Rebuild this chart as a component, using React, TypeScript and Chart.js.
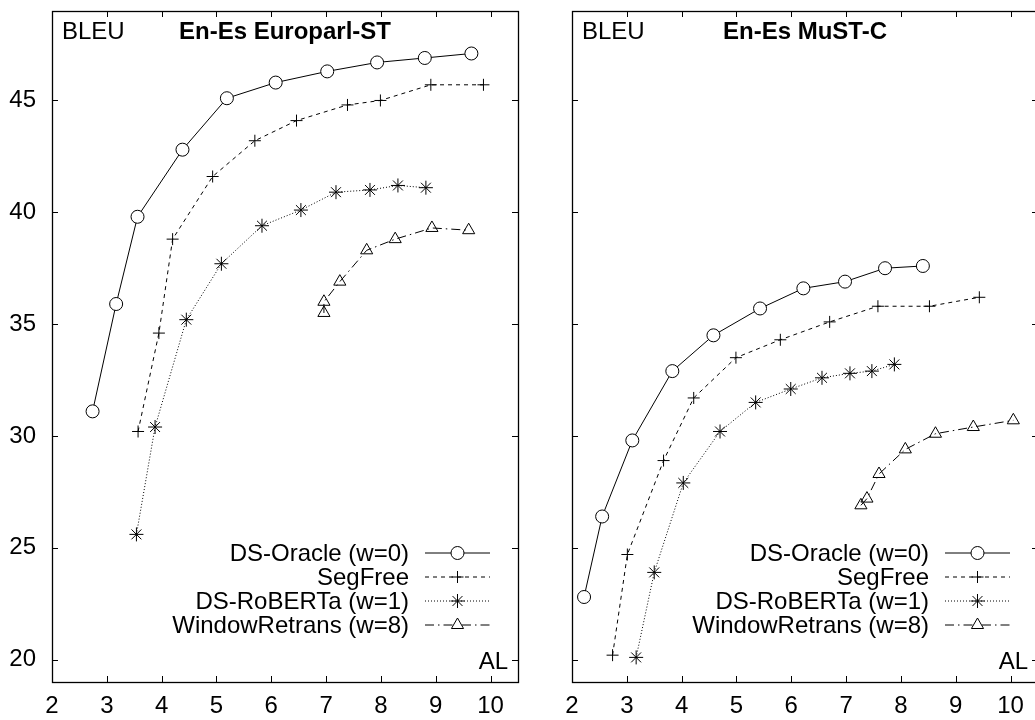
import React, { useEffect, useRef } from 'react';
import { Chart, registerables } from 'chart.js';

Chart.register(...registerables);

const FONT = '"Liberation Sans", Arial, Helvetica, sans-serif';
const FS = 24;

// ---- shared labels / ticks ----
const seriesLabels = ['DS-Oracle (w=0)', 'SegFree', 'DS-RoBERTa (w=1)', 'WindowRetrans (w=8)'];
const xTickValues = [2, 3, 4, 5, 6, 7, 8, 9, 10];
const yTickValues = [20, 25, 30, 35, 40, 45];
const panelTitles = ['En-Es Europarl-ST', 'En-Es MuST-C'];

// ---- En-Es Europarl-ST ----
const epOracleAL = [2.74, 3.17, 3.56, 4.38, 5.19, 6.08, 7.02, 7.93, 8.8, 9.65];
const epOracleBLEU = [31.1, 35.9, 39.8, 42.8, 45.1, 45.8, 46.3, 46.7, 46.9, 47.1];
const epSegFreeAL = [3.57, 3.95, 4.2, 4.93, 5.7, 6.46, 7.39, 7.99, 8.91, 9.87];
const epSegFreeBLEU = [30.2, 34.6, 38.8, 41.6, 43.2, 44.1, 44.8, 45.0, 45.7, 45.7];
const epRobertaAL = [3.54, 3.88, 4.45, 5.09, 5.83, 6.54, 7.18, 7.8, 8.31, 8.82];
const epRobertaBLEU = [25.6, 30.4, 35.2, 37.7, 39.4, 40.1, 40.9, 41.0, 41.2, 41.1];
const epWindowAL = [6.96, 6.96, 7.25, 7.74, 8.26, 8.93, 9.6];
const epWindowBLEU = [35.5, 36.0, 36.9, 38.3, 38.8, 39.3, 39.2];

// ---- En-Es MuST-C ----
const mcOracleAL = [2.22, 2.55, 3.1, 3.83, 4.58, 5.43, 6.22, 6.98, 7.71, 8.4];
const mcOracleBLEU = [22.8, 26.4, 29.8, 32.9, 34.5, 35.7, 36.6, 36.9, 37.5, 37.6];
const mcSegFreeAL = [2.74, 3.01, 3.67, 4.22, 4.99, 5.8, 6.7, 7.58, 8.52, 9.43];
const mcSegFreeBLEU = [20.2, 24.7, 28.9, 31.7, 33.5, 34.3, 35.1, 35.8, 35.8, 36.2];
const mcRobertaAL = [3.17, 3.5, 4.03, 4.7, 5.35, 5.99, 6.56, 7.07, 7.47, 7.88];
const mcRobertaBLEU = [20.1, 23.9, 27.9, 30.2, 31.5, 32.1, 32.6, 32.8, 32.9, 33.2];
const mcWindowAL = [7.27, 7.38, 7.6, 8.08, 8.63, 9.32, 10.05];
const mcWindowBLEU = [26.9, 27.2, 28.3, 29.4, 30.1, 30.4, 30.7];

const seriesStyles = [
  { borderDash: [] as number[], pointStyle: 'circle', pointRadius: 6.5, fill: '#fff' },
  { borderDash: [4, 4], pointStyle: 'cross', pointRadius: 6, fill: 'rgba(0,0,0,0)' },
  { borderDash: [1, 2], pointStyle: 'star', pointRadius: 7, fill: 'rgba(0,0,0,0)' },
  { borderDash: [9, 4, 1.5, 4], pointStyle: 'triangle', pointRadius: 7, fill: 'rgba(0,0,0,0)' },
];

const zip = (xs: number[], ys: number[]) => xs.map((x, i) => ({ x, y: ys[i] }));

function drawMarker(ctx: CanvasRenderingContext2D, style: string, x: number, y: number, r: number) {
  ctx.setLineDash([]);
  ctx.beginPath();
  if (style === 'circle') {
    ctx.arc(x, y, r, 0, Math.PI * 2);
    ctx.fillStyle = '#fff';
    ctx.fill();
    ctx.stroke();
  } else if (style === 'cross') {
    ctx.moveTo(x - r, y); ctx.lineTo(x + r, y);
    ctx.moveTo(x, y - r); ctx.lineTo(x, y + r);
    ctx.stroke();
  } else if (style === 'star') {
    const d = r * Math.SQRT1_2;
    ctx.moveTo(x - r, y); ctx.lineTo(x + r, y);
    ctx.moveTo(x, y - r); ctx.lineTo(x, y + r);
    ctx.moveTo(x - d, y - d); ctx.lineTo(x + d, y + d);
    ctx.moveTo(x - d, y + d); ctx.lineTo(x + d, y - d);
    ctx.stroke();
  } else if (style === 'triangle') {
    let rad = 0;
    ctx.moveTo(x + Math.sin(rad) * r, y - Math.cos(rad) * r);
    rad += (2 * Math.PI) / 3;
    ctx.lineTo(x + Math.sin(rad) * r, y - Math.cos(rad) * r);
    rad += (2 * Math.PI) / 3;
    ctx.lineTo(x + Math.sin(rad) * r, y - Math.cos(rad) * r);
    ctx.closePath();
    ctx.fillStyle = '#fff';
    ctx.fill();
    ctx.stroke();
  }
}

function makeDecor(title: string) {
  return {
    id: 'decor',
    afterDraw(chart: any) {
      const { ctx, chartArea: a, scales } = chart;
      const xs = scales.x;
      const ys = scales.y;
      ctx.save();
      ctx.strokeStyle = '#000';
      ctx.lineWidth = 1;
      ctx.setLineDash([]);
      // inward ticks on all four sides
      ctx.beginPath();
      for (const v of xTickValues) {
        const px = Math.round(xs.getPixelForValue(v)) + 0.5;
        ctx.moveTo(px, a.bottom); ctx.lineTo(px, a.bottom - 6);
        ctx.moveTo(px, a.top); ctx.lineTo(px, a.top + 6);
      }
      for (const v of yTickValues) {
        const py = Math.round(ys.getPixelForValue(v)) + 0.5;
        ctx.moveTo(a.left, py); ctx.lineTo(a.left + 6, py);
        ctx.moveTo(a.right, py); ctx.lineTo(a.right - 6, py);
      }
      ctx.stroke();
      ctx.lineWidth = 1.3;
      ctx.strokeRect(Math.round(a.left) + 0.5, Math.round(a.top) + 0.5, Math.round(a.right - a.left), Math.round(a.bottom - a.top));
      ctx.lineWidth = 1;

      // texts
      ctx.fillStyle = '#000';
      ctx.font = `${FS}px ${FONT}`;
      ctx.textBaseline = 'alphabetic';
      ctx.textAlign = 'left';
      ctx.fillText('BLEU', a.left + 10, a.top + 28);
      ctx.textAlign = 'right';
      ctx.fillText('AL', a.right - 10, a.bottom - 13);
      ctx.font = `bold ${FS}px ${FONT}`;
      ctx.textAlign = 'center';
      ctx.fillText(title, (a.left + a.right) / 2, a.top + 28);

      // key
      ctx.font = `${FS}px ${FONT}`;
      chart.data.datasets.forEach((ds: any, i: number) => {
        const y = a.bottom - 129.5 + i * 24;
        ctx.fillStyle = '#000';
        ctx.textAlign = 'right';
        ctx.fillText(ds.label, a.right - 109, y + 8);
        ctx.beginPath();
        ctx.setLineDash(ds.borderDash || []);
        ctx.moveTo(a.right - 93, y + 0.5);
        ctx.lineTo(a.right - 28, y + 0.5);
        ctx.stroke();
        drawMarker(ctx, ds.pointStyle, a.right - 60.5, y + 0.5, ds.pointRadius);
      });
      ctx.restore();
    },
  };
}

function buildDatasets(series: { x: number; y: number }[][]) {
  return series.map((data, i) => ({
    label: seriesLabels[i],
    data,
    showLine: true,
    tension: 0,
    borderColor: '#000',
    borderWidth: 1,
    borderDash: seriesStyles[i].borderDash,
    pointStyle: seriesStyles[i].pointStyle,
    pointRadius: seriesStyles[i].pointRadius,
    pointBorderColor: '#000',
    pointBorderWidth: 1,
    pointBackgroundColor: seriesStyles[i].fill,
    backgroundColor: seriesStyles[i].fill,
  }));
}

function Panel({ left, title, series, showY }: { left: number; title: string; series: { x: number; y: number }[][]; showY: boolean }) {
  const ref = useRef<HTMLCanvasElement>(null);
  useEffect(() => {
    if (!ref.current) return;
    const chart = new Chart(ref.current, {
      type: 'scatter',
      data: { datasets: buildDatasets(series) as any },
      options: {
        animation: false,
        responsive: false,
        devicePixelRatio: 1,
        layout: { padding: { top: 11, right: 12, left: 0, bottom: 0 } },
        plugins: { legend: { display: false }, tooltip: { enabled: false } },
        scales: {
          x: {
            type: 'linear',
            min: 2,
            max: 10.5,
            afterFit: (s: any) => { s.height = 38; s.paddingLeft = 0; s.paddingRight = 0; },
            afterBuildTicks: (s: any) => { s.ticks = xTickValues.map((v) => ({ value: v })); s.min = 2; s.max = 10.5; },
            grid: { display: false, drawTicks: false },
            border: { display: false },
            ticks: { color: '#000', font: { family: FONT, size: FS }, padding: 10, autoSkip: false, maxRotation: 0 },
          },
          y: {
            type: 'linear',
            min: 19,
            max: 49,
            afterFit: (s: any) => { s.width = 52; s.paddingTop = 0; s.paddingBottom = 0; },
            afterBuildTicks: (s: any) => { s.ticks = yTickValues.map((v) => ({ value: v })); s.min = 19; s.max = 49; },
            grid: { display: false, drawTicks: false },
            border: { display: false },
            ticks: { display: showY, color: '#000', font: { family: FONT, size: FS }, padding: 16 },
          },
        },
      },
      plugins: [makeDecor(title)],
    } as any);
    return () => chart.destroy();
  }, []);
  return (
    <canvas
      ref={ref}
      width={530}
      height={720}
      style={{ position: 'absolute', left, top: 0, width: 530, height: 720 }}
    />
  );
}

export default function App() {
  const europarl = [
    zip(epOracleAL, epOracleBLEU),
    zip(epSegFreeAL, epSegFreeBLEU),
    zip(epRobertaAL, epRobertaBLEU),
    zip(epWindowAL, epWindowBLEU),
  ];
  const mustc = [
    zip(mcOracleAL, mcOracleBLEU),
    zip(mcSegFreeAL, mcSegFreeBLEU),
    zip(mcRobertaAL, mcRobertaBLEU),
    zip(mcWindowAL, mcWindowBLEU),
  ];
  return (
    <div style={{ position: 'fixed', left: 0, top: 0, width: 1035, height: 720, overflow: 'hidden', background: '#fff' }}>
      <Panel left={0} title={panelTitles[0]} series={europarl} showY={true} />
      <Panel left={520} title={panelTitles[1]} series={mustc} showY={false} />
    </div>
  );
}
